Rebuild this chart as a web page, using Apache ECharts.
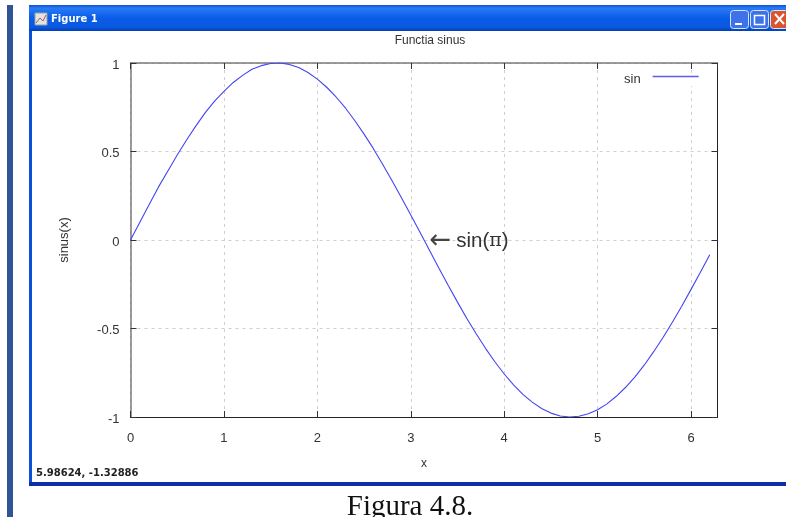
<!DOCTYPE html>
<html><head><meta charset="utf-8">
<style>html,body{margin:0;padding:0;background:#fff}#c{width:786px;height:517px}</style>
<script src="https://cdn.jsdelivr.net/npm/echarts@6/dist/echarts.min.js"></script>
</head><body><div id="c"></div>
<script>
const xValues = [0,0.1,0.2,0.3,0.4,0.5,0.6,0.7,0.8,0.9,1,1.1,1.2,1.3,1.4,1.5,1.6,1.7,1.8,1.9,2,2.1,2.2,2.3,2.4,2.5,2.6,2.7,2.8,2.9,3,3.1,3.2,3.3,3.4,3.5,3.6,3.7,3.8,3.9,4,4.1,4.2,4.3,4.4,4.5,4.6,4.7,4.8,4.9,5,5.1,5.2,5.3,5.4,5.5,5.6,5.7,5.8,5.9,6,6.1,6.2];
const sinValues = [0,0.1,0.2,0.3,0.39,0.48,0.565,0.645,0.72,0.785,0.84,0.89,0.93,0.965,0.985,0.997,1,0.992,0.974,0.946,0.909,0.863,0.808,0.746,0.675,0.598,0.516,0.427,0.335,0.239,0.141,0.042,-0.058,-0.158,-0.256,-0.351,-0.443,-0.53,-0.612,-0.688,-0.757,-0.818,-0.872,-0.916,-0.952,-0.978,-0.994,-1,-0.996,-0.982,-0.959,-0.926,-0.883,-0.832,-0.773,-0.706,-0.631,-0.551,-0.465,-0.374,-0.279,-0.182,-0.083];
const yTicks = {'1':'1','0.5':'0.5','0':'0','-0.5':'-0.5','-1':'-1'};
const titleText = 'Functia sinus', xName = 'x', yName = 'sinus(x)', seriesName = 'sin';
const annotationX = 3.2, annotationY = 0;
const windowTitle = 'Figure 1', statusText = '5.98624, -1.32886', caption = 'Figura 4.8.';

const ink = '#333';
const grad = new echarts.graphic.LinearGradient(0,0,0,1,[
  {offset:0,color:'#0a52d8'},{offset:0.12,color:'#2a7bf5'},{offset:0.5,color:'#0a5ce8'},{offset:0.85,color:'#0a58e0'},{offset:1,color:'#0340b8'}]);
const btn = (x,fill)=>({type:'rect',shape:{x:x+.5,y:10.5,width:18,height:18,r:3},silent:true,
  style:{fill,stroke:'#d8e4fb',lineWidth:1}});
const chrome = [
  {type:'rect',shape:{x:7,y:5,width:6,height:512},style:{fill:'#2f5597'}},
  {type:'rect',shape:{x:29,y:5,width:757,height:481},style:{fill:'#0a50d8'}},
  {type:'rect',shape:{x:29,y:5,width:757,height:26},style:{fill:grad}},
  {type:'rect',shape:{x:32,y:31,width:754,height:451},style:{fill:'#fff'}},
  {type:'rect',shape:{x:29,y:482,width:757,height:4},style:{fill:'#0a2fa8'}},
  {type:'rect',shape:{x:35,y:13,width:12,height:12},style:{fill:'#dfe8d8',stroke:'#8fa0b0',lineWidth:1}},
  {type:'polyline',shape:{points:[[36,23],[40,18],[43,21],[46,15]]},style:{stroke:'#c0408a',fill:null,lineWidth:1}},
  {type:'text',x:51,y:14,style:{text:windowTitle,fill:'#fff',font:'bold 10px "DejaVu Sans"'}},
  btn(730,'#3d72e8'),
  {type:'rect',shape:{x:735,y:23,width:7,height:2},style:{fill:'#fff'}},
  btn(750,'#3d72e8'),
  {type:'rect',shape:{x:754.5,y:15.5,width:10,height:9},style:{fill:null,stroke:'#fff',lineWidth:1.5}},
  btn(770,'#d9532c'),
  {type:'line',shape:{x1:775,y1:14,x2:784,y2:24},style:{stroke:'#fff',lineWidth:2}},
  {type:'line',shape:{x1:784,y1:14,x2:775,y2:24},style:{stroke:'#fff',lineWidth:2}},
  {type:'text',x:36,y:468,style:{text:statusText,fill:'#222',font:'bold 10px "DejaVu Sans"'}},
  {type:'text',x:410,y:507,style:{text:caption,fill:'#111',font:'29px "Liberation Serif"',align:'center',verticalAlign:'middle'}}
].map(g=>Object.assign({silent:true,z:-10,zlevel:0},g));

const axisCommon = {
  axisTick:{show:true,inside:true,length:6,lineStyle:{color:'#333'}}
};
const softLine = {show:true,onZero:false,lineStyle:{color:'#7a7a7a',width:1.5}};
const hardLine = {show:true,onZero:false,lineStyle:{color:'#222',width:1}};
const labelStyle = {color:ink,fontFamily:'Liberation Sans',fontSize:13};
const gridLine = {show:true,lineStyle:{color:'#cfcfcf',type:[3,4],width:1}};
const chart = echarts.init(document.getElementById('c'),null,{renderer:'canvas'});
chart.setOption({
  animation:false,
  backgroundColor:'#fff',
  graphic:chrome,
  title:{text:titleText,left:425,top:30,textAlign:'center',
    textStyle:{color:ink,fontFamily:'Liberation Sans',fontSize:12,fontWeight:'normal'}},
  legend:{show:true,left:622,top:73,align:'right',icon:'rect',itemWidth:46,itemHeight:1.5,itemGap:0,padding:[0,0,0,2],
    backgroundColor:'#fff',
    formatter:n=>'{a|'+n+'}',
    textStyle:{color:ink,fontFamily:'Liberation Sans',fontSize:13,padding:[0,7,0,0],
      rich:{a:{fontFamily:'Liberation Sans',fontSize:13,color:ink,padding:[6,0,0,0]}}},
    data:[{name:seriesName,itemStyle:{color:'#5a5af5'}}]},
  grid:{left:130.5,top:63,width:587,height:354,containLabel:false},
  xAxis:[
    Object.assign({},axisCommon,{type:'value',min:0,max:6.283,interval:1,position:'bottom',
      axisLine:hardLine,
      name:xName,nameLocation:'middle',nameGap:41,nameTextStyle:{color:ink,fontFamily:'Liberation Sans',fontSize:12},
      axisLabel:Object.assign({},labelStyle,{margin:15,showMaxLabel:false}),splitLine:gridLine}),
    Object.assign({},axisCommon,{type:'value',min:0,max:6.283,interval:1,position:'top',
      axisLine:softLine,axisLabel:{show:false},splitLine:{show:false}})
  ],
  yAxis:[
    Object.assign({},axisCommon,{type:'value',min:-1,max:1,interval:0.5,position:'left',
      axisLine:softLine,
      name:yName,nameLocation:'middle',nameGap:60,nameRotate:90,nameTextStyle:{color:ink,fontFamily:'Liberation Sans',fontSize:13},
      axisLabel:Object.assign({},labelStyle,{margin:11,align:'right',verticalAlign:'top',lineHeight:4,alignMinLabel:'right',alignMaxLabel:'right',formatter:v=>yTicks[String(v)]}),splitLine:gridLine}),
    Object.assign({},axisCommon,{type:'value',min:-1,max:1,interval:0.5,position:'right',
      axisLine:hardLine,axisLabel:{show:false},splitLine:{show:false}})
  ],
  series:[{
    name:seriesName,type:'line',xAxisIndex:0,yAxisIndex:0,
    data:xValues.map((x,i)=>[x,sinValues[i]]),
    showSymbol:false,symbol:'none',smooth:false,
    lineStyle:{color:'#4444f2',width:1.1},itemStyle:{color:'#4444f2'},
    markPoint:{
      silent:true,symbol:'circle',symbolSize:0,
      data:[{coord:[annotationX,annotationY]}],
      label:{show:true,position:'right',distance:0,offset:[0,1],
        formatter:'{a|←}{b|sin(}{c|π}{b|)}',
        rich:{a:{fontFamily:'DejaVu Sans',fontSize:26,color:'#444',padding:[0,5,0,0]},
              b:{fontFamily:'Liberation Sans',fontSize:20.5,color:ink},
              c:{fontFamily:'DejaVu Serif',fontSize:19,color:ink}}}
    }
  }]
});
</script></body></html>
